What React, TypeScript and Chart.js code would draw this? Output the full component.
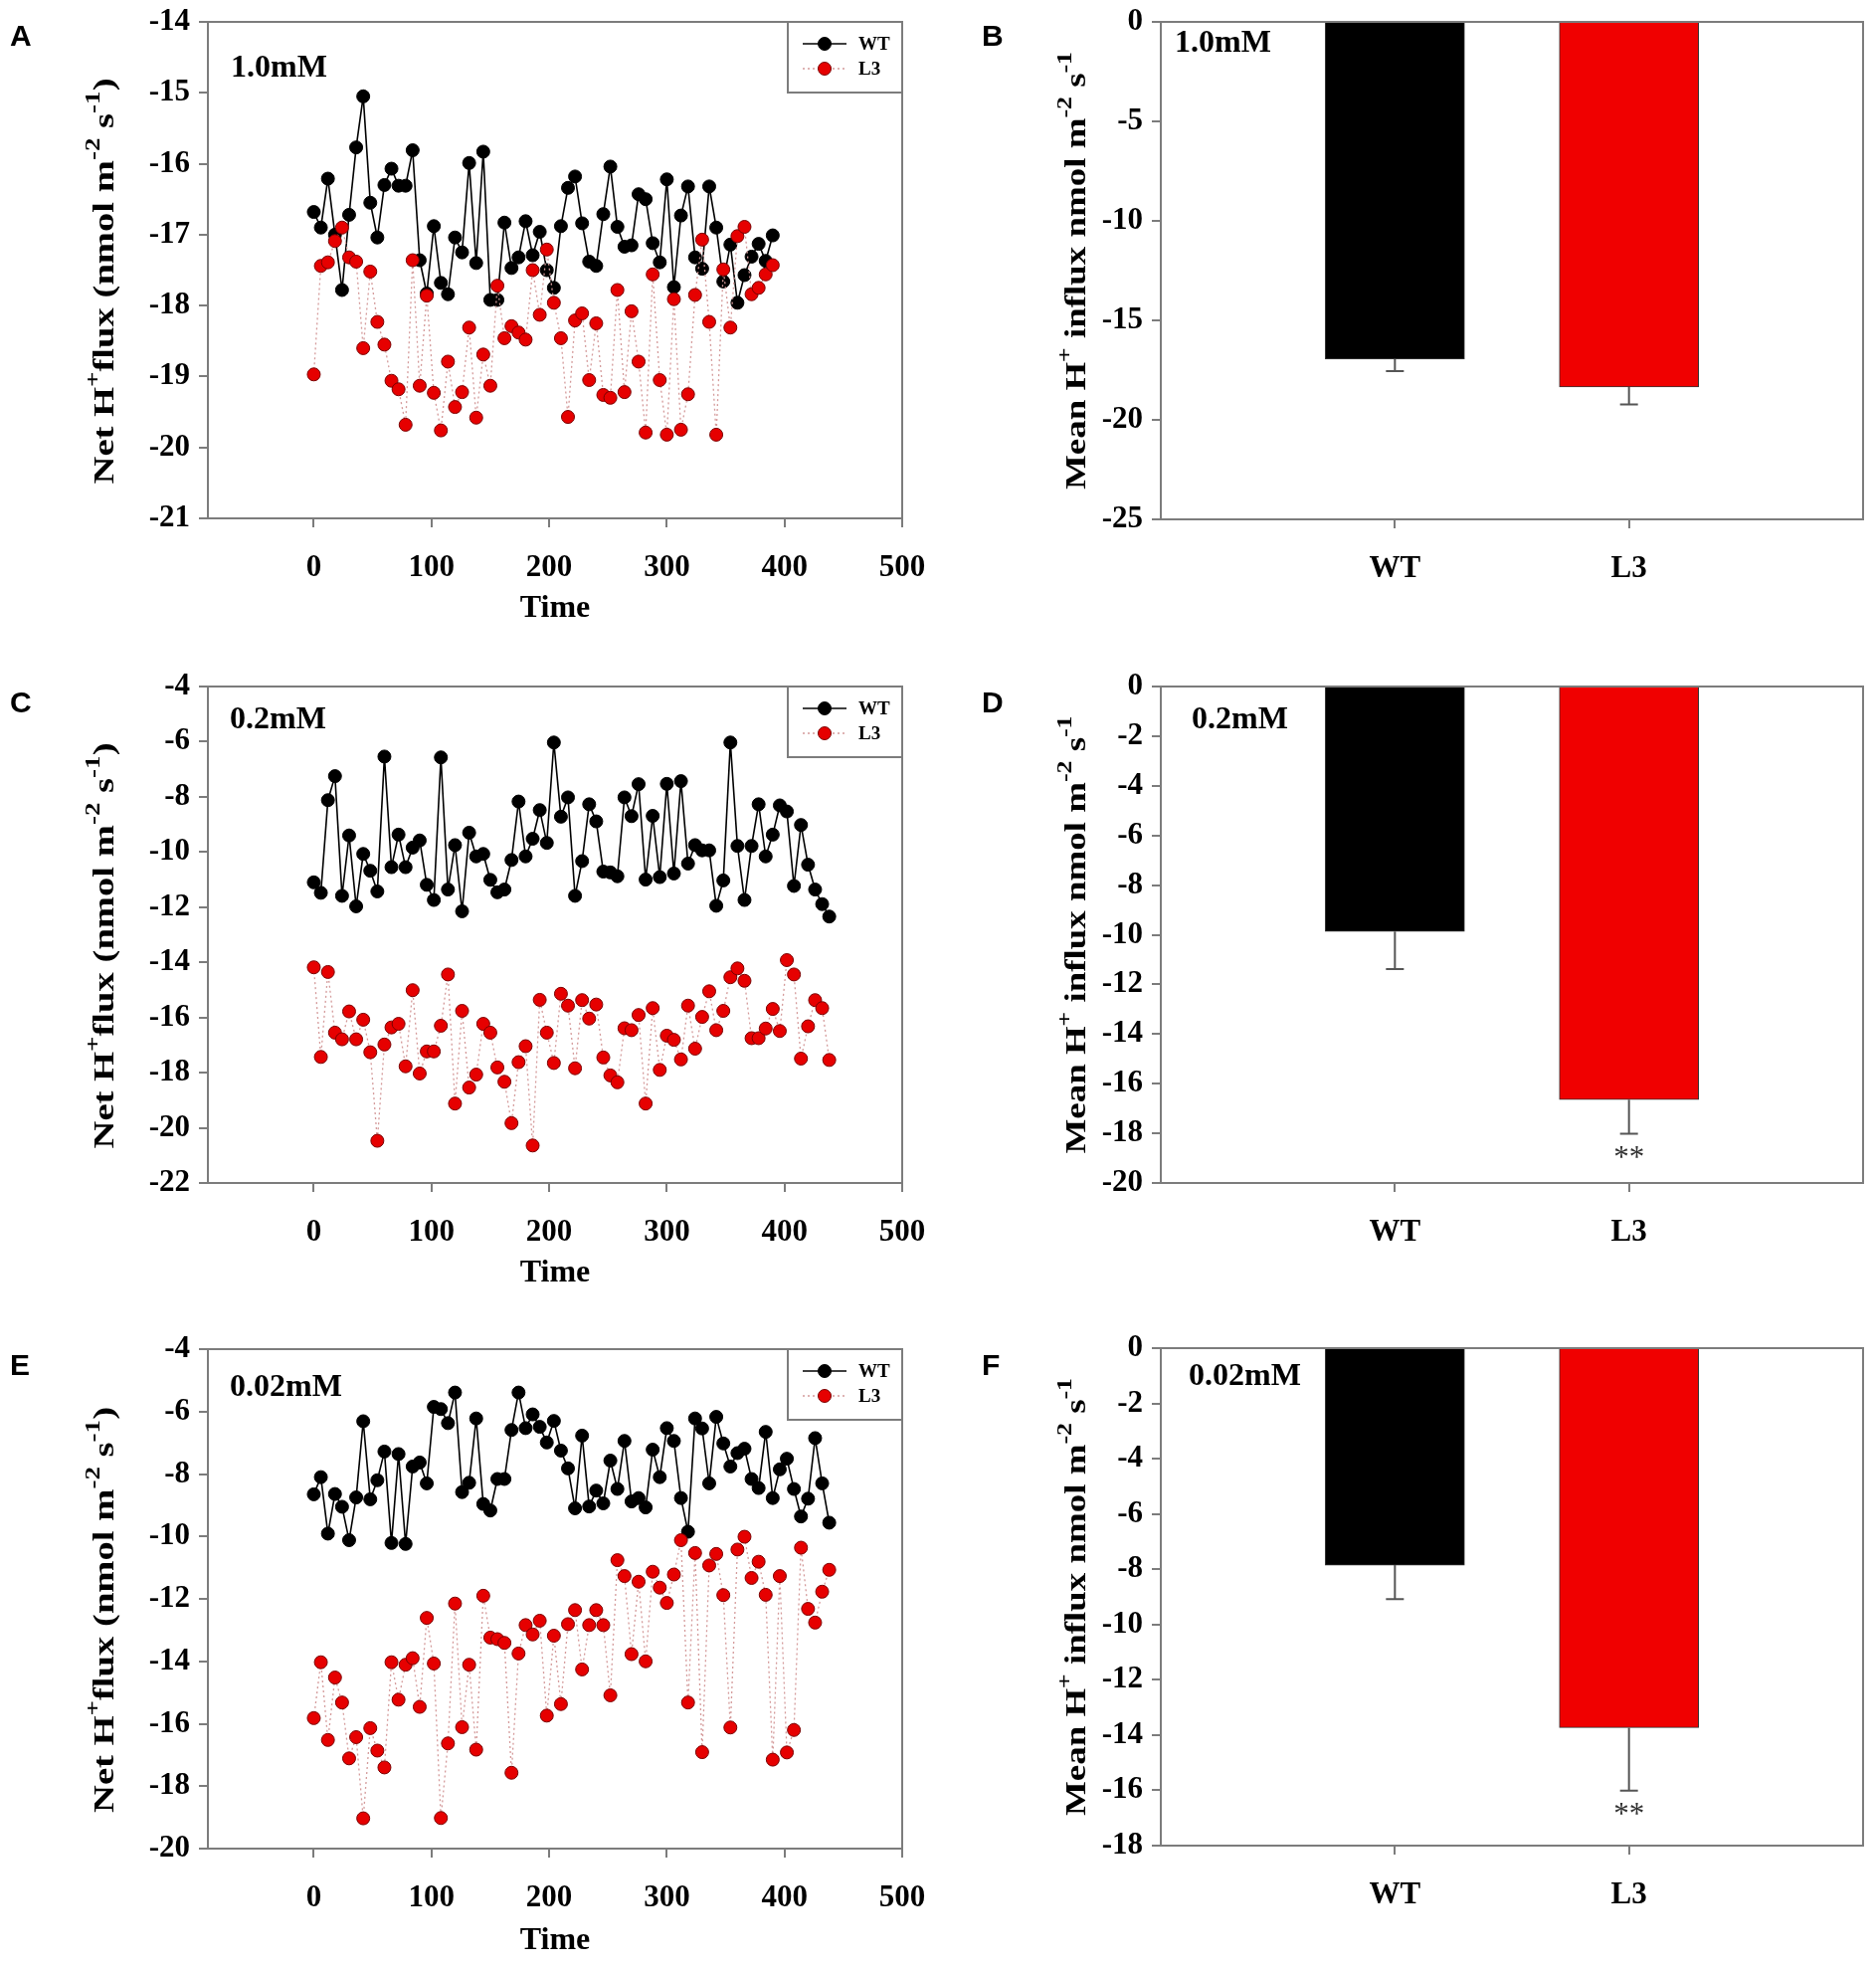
import React, { useEffect, useRef } from 'react';
import { Chart, registerables } from 'chart.js';

Chart.register(...registerables);

// ---- data ----
const timeA = [0, 6, 12, 18, 24, 30, 36, 42, 48, 54, 60, 66, 72, 78, 84, 90, 96, 102, 108, 114, 120, 126, 132, 138, 144, 150, 156, 162, 168, 174, 180, 186, 192, 198, 204, 210, 216, 222, 228, 234, 240, 246, 252, 258, 264, 270, 276, 282, 288, 294, 300, 306, 312, 318, 324, 330, 336, 342, 348, 354, 360, 366, 372, 378, 384, 390];
const wtA = [-16.68, -16.90, -16.21, -17.00, -17.78, -16.72, -15.77, -15.05, -16.55, -17.04, -16.30, -16.07, -16.31, -16.31, -15.81, -17.36, -17.83, -16.88, -17.68, -17.84, -17.04, -17.25, -15.99, -17.40, -15.83, -17.92, -17.92, -16.83, -17.47, -17.32, -16.81, -17.29, -16.96, -17.50, -17.75, -16.88, -16.34, -16.18, -16.84, -17.38, -17.44, -16.71, -16.04, -16.89, -17.17, -17.15, -16.43, -16.50, -17.12, -17.39, -16.22, -17.74, -16.73, -16.32, -17.32, -17.48, -16.32, -16.90, -17.66, -17.14, -17.96, -17.57, -17.31, -17.13, -17.37, -17.01];
const l3A = [-18.97, -17.44, -17.39, -17.09, -16.90, -17.32, -17.38, -18.60, -17.52, -18.23, -18.55, -19.06, -19.18, -19.68, -17.36, -19.13, -17.86, -19.23, -19.76, -18.79, -19.43, -19.22, -18.31, -19.58, -18.69, -19.13, -17.72, -18.46, -18.29, -18.38, -18.48, -17.50, -18.13, -17.21, -17.96, -18.46, -19.57, -18.21, -18.11, -19.05, -18.25, -19.26, -19.30, -17.78, -19.22, -18.08, -18.79, -19.79, -17.56, -19.05, -19.82, -17.91, -19.75, -19.25, -17.85, -17.07, -18.23, -19.82, -17.49, -18.31, -17.02, -16.89, -17.84, -17.75, -17.56, -17.43];

const timeC = [0, 6, 12, 18, 24, 30, 36, 42, 48, 54, 60, 66, 72, 78, 84, 90, 96, 102, 108, 114, 120, 126, 132, 138, 144, 150, 156, 162, 168, 174, 180, 186, 192, 198, 204, 210, 216, 222, 228, 234, 240, 246, 252, 258, 264, 270, 276, 282, 288, 294, 300, 306, 312, 318, 324, 330, 336, 342, 348, 354, 360, 366, 372, 378, 384, 390, 396, 402, 408, 414, 420, 426, 432, 438];
const wtC = [-11.10, -11.48, -8.12, -7.25, -11.59, -9.40, -11.97, -10.07, -10.68, -11.43, -6.54, -10.55, -9.37, -10.55, -9.84, -9.58, -11.19, -11.74, -6.57, -11.36, -9.75, -12.15, -9.30, -10.16, -10.07, -11.01, -11.46, -11.36, -10.29, -8.17, -10.16, -9.52, -8.48, -9.67, -6.03, -8.72, -8.02, -11.59, -10.33, -8.27, -8.89, -10.71, -10.74, -10.88, -8.02, -8.70, -7.54, -11.00, -8.69, -10.91, -7.53, -10.78, -7.43, -10.42, -9.75, -9.94, -9.94, -11.95, -11.03, -6.03, -9.78, -11.74, -9.78, -8.27, -10.16, -9.37, -8.31, -8.53, -11.23, -9.02, -10.46, -11.36, -11.89, -12.34];
const l3C = [-14.18, -17.43, -14.35, -16.55, -16.79, -15.78, -16.79, -16.08, -17.26, -20.47, -16.98, -16.36, -16.23, -17.77, -15.01, -18.03, -17.23, -17.23, -16.30, -14.44, -19.12, -15.76, -18.54, -18.07, -16.23, -16.55, -17.81, -18.33, -19.83, -17.62, -17.04, -20.64, -15.36, -16.55, -17.65, -15.14, -15.57, -17.84, -15.37, -16.04, -15.53, -17.45, -18.10, -18.35, -16.39, -16.46, -15.91, -19.12, -15.66, -17.90, -16.66, -16.81, -17.52, -15.57, -17.13, -15.98, -15.05, -16.46, -15.76, -14.54, -14.22, -14.67, -16.75, -16.75, -16.40, -15.69, -16.49, -13.92, -14.44, -17.49, -16.32, -15.37, -15.66, -17.54];

const timeE = [0, 6, 12, 18, 24, 30, 36, 42, 48, 54, 60, 66, 72, 78, 84, 90, 96, 102, 108, 114, 120, 126, 132, 138, 144, 150, 156, 162, 168, 174, 180, 186, 192, 198, 204, 210, 216, 222, 228, 234, 240, 246, 252, 258, 264, 270, 276, 282, 288, 294, 300, 306, 312, 318, 324, 330, 336, 342, 348, 354, 360, 366, 372, 378, 384, 390, 396, 402, 408, 414, 420, 426, 432, 438];
const wtE = [-8.65, -8.10, -9.91, -8.64, -9.05, -10.12, -8.75, -6.31, -8.81, -8.20, -7.28, -10.21, -7.36, -10.24, -7.76, -7.63, -8.30, -5.85, -5.92, -6.37, -5.39, -8.58, -8.28, -6.22, -8.96, -9.17, -8.16, -8.16, -6.59, -5.39, -6.53, -6.09, -6.49, -6.99, -6.30, -7.25, -7.82, -9.10, -6.77, -9.04, -8.53, -8.94, -7.57, -8.48, -6.94, -8.88, -8.77, -9.07, -7.22, -8.10, -6.53, -6.94, -8.77, -9.85, -6.22, -6.54, -8.30, -6.17, -7.02, -7.76, -7.33, -7.19, -8.16, -8.45, -6.65, -8.77, -7.85, -7.51, -8.48, -9.36, -8.79, -6.85, -8.30, -9.56];
const l3E = [-15.82, -14.03, -16.52, -14.52, -15.32, -17.11, -16.43, -19.03, -16.14, -16.86, -17.40, -14.03, -15.23, -14.11, -13.90, -15.46, -12.61, -14.07, -19.02, -16.63, -12.15, -16.11, -14.11, -16.83, -11.90, -13.24, -13.29, -13.41, -17.57, -13.75, -12.84, -13.14, -12.70, -15.74, -13.18, -15.37, -12.81, -12.36, -14.26, -12.84, -12.36, -12.84, -15.09, -10.76, -11.27, -13.77, -11.45, -14.00, -11.13, -11.64, -12.13, -11.22, -10.12, -15.32, -10.53, -16.91, -10.93, -10.56, -11.88, -16.12, -10.42, -10.01, -11.33, -10.81, -11.87, -17.15, -11.27, -16.92, -16.20, -10.36, -12.32, -12.76, -11.77, -11.07];

const timeTicks = [0, 100, 200, 300, 400, 500];

const lineLabels = ['WT', 'L3'];
const barLabels = ['WT', 'L3'];
const meanB = [-16.94, -18.35];
const errB = [0.61, 0.88];
const sigB = ['', ''];
const meanD = [-9.87, -16.64];
const errD = [1.51, 1.38];
const sigD = ['', '**'];
const meanF = [-7.85, -13.73];
const errF = [1.23, 2.28];
const sigF = ['', '**'];

// axis titles with superscript parts
const fluxTitle = [
  { text: 'Net H', sup: false }, { text: '+', sup: true }, { text: 'flux (nmol m', sup: false },
  { text: '-2', sup: true }, { text: ' s', sup: false }, { text: '-1', sup: true }, { text: ')', sup: false },
];
const meanTitle = [
  { text: 'Mean H', sup: false }, { text: '+', sup: true }, { text: ' influx nmol m', sup: false },
  { text: '-2', sup: true }, { text: ' s', sup: false }, { text: '-1', sup: true },
];

// ---- styling ----
const SERIF = "'Liberation Serif', 'Times New Roman', serif";
const AXIS_GRAY = '#7c7c7c';
const tickFont = { family: SERIF, size: 31, weight: 'bold' };
const titleFont = { family: SERIF, size: 32, weight: 'bold' };

const framePlugin = {
  id: 'frame',
  beforeDatasetsDraw(chart: any) {
    const ctx = chart.ctx;
    const a = chart.chartArea;
    ctx.save();
    ctx.strokeStyle = AXIS_GRAY;
    ctx.lineWidth = 2;
    ctx.strokeRect(a.left, a.top, a.right - a.left, a.bottom - a.top);
    ctx.restore();
  },
};

function makeLabelPlugin(text: string, dx: number, dy: number) {
  return {
    id: 'panelLabel',
    afterDatasetsDraw(chart: any) {
      const ctx = chart.ctx;
      const a = chart.chartArea;
      ctx.save();
      ctx.font = 'bold 32px ' + SERIF;
      ctx.fillStyle = '#000';
      ctx.textAlign = 'left';
      ctx.textBaseline = 'middle';
      ctx.fillText(text, a.left + dx, a.top + dy);
      ctx.restore();
    },
  };
}

// rotated y title drawn with real superscripts, stretched along its length like the source figure
function makeYTitlePlugin(parts: { text: string; sup: boolean }[], cx: number, dy: number, length: number) {
  return {
    id: 'yTitle',
    afterDraw(chart: any) {
      const ctx = chart.ctx;
      const a = chart.chartArea;
      const mainFont = 'bold 30px ' + SERIF;
      const supFont = 'bold 21px ' + SERIF;
      ctx.save();
      let total = 0;
      const widths: number[] = [];
      for (let i = 0; i < parts.length; i++) {
        ctx.font = parts[i].sup ? supFont : mainFont;
        const w = ctx.measureText(parts[i].text).width;
        widths.push(w);
        total += w;
      }
      ctx.translate(cx, (a.top + a.bottom) / 2 + dy);
      ctx.rotate(-Math.PI / 2);
      ctx.scale(length / total, 1);
      ctx.fillStyle = '#000';
      ctx.textAlign = 'left';
      ctx.textBaseline = 'middle';
      let x = -total / 2;
      for (let i = 0; i < parts.length; i++) {
        ctx.font = parts[i].sup ? supFont : mainFont;
        ctx.fillText(parts[i].text, x, parts[i].sup ? -11 : 0);
        x += widths[i];
      }
      ctx.restore();
    },
  };
}

const legendPlugin = {
  id: 'boxLegend',
  afterDatasetsDraw(chart: any) {
    const ctx = chart.ctx;
    const right = chart.chartArea.right;
    const top = chart.chartArea.top;
    ctx.save();
    ctx.fillStyle = '#fff';
    ctx.fillRect(right - 115, top, 115, 71);
    ctx.strokeStyle = AXIS_GRAY;
    ctx.lineWidth = 2;
    ctx.strokeRect(right - 115, top, 115, 71);
    const sets = chart.data.datasets;
    for (let i = 0; i < sets.length; i++) {
      const ds = sets[i];
      const y = top + 22 + i * 25;
      ctx.strokeStyle = ds.borderColor;
      ctx.lineWidth = ds.borderWidth;
      ctx.setLineDash(ds.borderDash || []);
      ctx.beginPath();
      ctx.moveTo(right - 100, y);
      ctx.lineTo(right - 56, y);
      ctx.stroke();
      ctx.setLineDash([]);
      ctx.beginPath();
      ctx.arc(right - 78, y, 6.5, 0, Math.PI * 2);
      ctx.fillStyle = ds.pointBackgroundColor;
      ctx.fill();
      ctx.strokeStyle = ds.pointBorderColor;
      ctx.lineWidth = 1;
      ctx.stroke();
      ctx.fillStyle = '#000';
      ctx.font = 'bold 19px ' + SERIF;
      ctx.textAlign = 'left';
      ctx.textBaseline = 'middle';
      ctx.fillText(ds.label, right - 44, y + 1);
    }
    ctx.restore();
  },
};

function makeErrorPlugin(means: number[], errs: number[], marks: string[]) {
  return {
    id: 'errorBars',
    afterDatasetsDraw(chart: any) {
      const ctx = chart.ctx;
      const yScale = chart.scales.y;
      const meta = chart.getDatasetMeta(0);
      ctx.save();
      for (let i = 0; i < means.length; i++) {
        const bar = meta.data[i];
        if (!bar) continue;
        const x = bar.x;
        const y0 = yScale.getPixelForValue(means[i]);
        const y1 = yScale.getPixelForValue(means[i] - errs[i]);
        ctx.strokeStyle = '#555';
        ctx.lineWidth = 2;
        ctx.beginPath();
        ctx.moveTo(x, y0);
        ctx.lineTo(x, y1);
        ctx.moveTo(x - 9, y1);
        ctx.lineTo(x + 9, y1);
        ctx.stroke();
        if (marks[i]) {
          ctx.fillStyle = '#333';
          ctx.font = '31px ' + SERIF;
          ctx.textAlign = 'center';
          ctx.textBaseline = 'middle';
          ctx.fillText(marks[i], x, y1 + 25);
        }
      }
      ctx.restore();
    },
  };
}

const gridOpts = { drawOnChartArea: false, color: AXIS_GRAY, lineWidth: 2, tickLength: 9 };
const borderOpts = { color: AXIS_GRAY, width: 2 };

// the y tick labels reserve ~27.6px above the plot, so every canvas starts 28px above its plot
const TOP_PAD = 28;

interface Layout {
  padRight: number;
  yWidth: number;
  xHeight: number;
  xTitlePad: number;
}

function lineConfig(
  times: number[], wt: number[], l3: number[],
  yMin: number, yMax: number, yStep: number,
  label: string, ldx: number, ldy: number, lay: Layout
): any {
  const wtPoints = times.map(function (t, i) { return { x: t, y: wt[i] }; });
  const l3Points = times.map(function (t, i) { return { x: t, y: l3[i] }; });
  return {
    type: 'line',
    data: {
      datasets: [
        {
          label: lineLabels[0],
          data: wtPoints,
          borderColor: '#000',
          borderWidth: 1.6,
          pointRadius: 6.5,
          pointBackgroundColor: '#000',
          pointBorderColor: '#000',
          pointBorderWidth: 1,
          tension: 0,
          order: 2,
        },
        {
          label: lineLabels[1],
          data: l3Points,
          borderColor: '#d49a9a',
          borderWidth: 1.3,
          borderDash: [2, 3],
          pointRadius: 6.5,
          pointBackgroundColor: '#e60000',
          pointBorderColor: '#7a0000',
          pointBorderWidth: 1,
          tension: 0,
          order: 1,
        },
      ],
    },
    options: {
      animation: false,
      responsive: true,
      maintainAspectRatio: false,
      devicePixelRatio: 1,
      layout: { padding: { left: 0, right: lay.padRight, top: TOP_PAD, bottom: 0 } },
      plugins: { legend: { display: false }, tooltip: { enabled: false } },
      scales: {
        x: {
          type: 'linear',
          min: -90,
          max: 500,
          afterBuildTicks: function (s: any) { s.ticks = timeTicks.map(function (v) { return { value: v }; }); },
          afterFit: function (s: any) { s.height = lay.xHeight; },
          ticks: { color: '#000', font: tickFont, padding: 22, maxRotation: 0, autoSkip: false },
          grid: gridOpts,
          border: borderOpts,
          title: { display: true, text: 'Time', color: '#000', font: titleFont, padding: { top: 0, bottom: lay.xTitlePad } },
        },
        y: {
          min: yMin,
          max: yMax,
          afterFit: function (s: any) { s.width = lay.yWidth; },
          ticks: { stepSize: yStep, color: '#000', font: tickFont, padding: 9, autoSkip: false },
          grid: gridOpts,
          border: borderOpts,
        },
      },
    },
    plugins: [framePlugin, legendPlugin, makeLabelPlugin(label, ldx, ldy), makeYTitlePlugin(fluxTitle, 106, 11, 408)],
  };
}

function barConfig(
  means: number[], errs: number[], marks: string[],
  yMin: number, yStep: number,
  label: string, ldx: number, ldy: number, lay: Layout
): any {
  const points = means.map(function (m, i) { return { x: i + 1, y: m }; });
  return {
    type: 'bar',
    data: {
      datasets: [
        {
          data: points,
          backgroundColor: ['#000000', '#f00000'],
          borderColor: '#333',
          borderWidth: 1,
          barThickness: 140,
        },
      ],
    },
    options: {
      animation: false,
      responsive: true,
      maintainAspectRatio: false,
      devicePixelRatio: 1,
      layout: { padding: { left: 0, right: lay.padRight, top: TOP_PAD, bottom: 0 } },
      plugins: { legend: { display: false }, tooltip: { enabled: false } },
      scales: {
        x: {
          type: 'linear',
          min: 0,
          max: 3,
          offset: false,
          afterBuildTicks: function (s: any) { s.ticks = barLabels.map(function (_l, i) { return { value: i + 1 }; }); },
          afterFit: function (s: any) { s.height = lay.xHeight; },
          ticks: {
            color: '#000',
            font: tickFont,
            padding: 22,
            maxRotation: 0,
            autoSkip: false,
            callback: function (v: any) { return barLabels[Math.round(Number(v)) - 1] || ''; },
          },
          grid: { drawOnChartArea: false, color: AXIS_GRAY, lineWidth: 2, tickLength: 9, offset: false },
          border: borderOpts,
        },
        y: {
          min: yMin,
          max: 0,
          afterFit: function (s: any) { s.width = lay.yWidth; },
          ticks: { stepSize: yStep, color: '#000', font: tickFont, padding: 9, autoSkip: false },
          grid: gridOpts,
          border: borderOpts,
        },
      },
    },
    plugins: [framePlugin, makeErrorPlugin(means, errs, marks), makeLabelPlugin(label, ldx, ldy), makeYTitlePlugin(meanTitle, 140, 0, 440)],
  };
}

interface PanelProps {
  left: number;
  top: number;
  width: number;
  height: number;
  make: () => any;
}

function ChartPanel(props: PanelProps) {
  const canvasRef = useRef<HTMLCanvasElement>(null);
  useEffect(() => {
    let chart: Chart | undefined;
    if (canvasRef.current) {
      chart = new Chart(canvasRef.current, props.make());
    }
    return () => {
      if (chart) chart.destroy();
    };
  }, []);
  return (
    <div style={{ position: 'absolute', left: props.left, top: props.top, width: props.width, height: props.height }}>
      <canvas ref={canvasRef}></canvas>
    </div>
  );
}

function letterStyle(left: number, top: number): React.CSSProperties {
  return {
    position: 'absolute',
    left: left,
    top: top,
    fontFamily: "'Liberation Sans', Arial, sans-serif",
    fontWeight: 'bold',
    fontSize: 30,
    lineHeight: 1,
    color: '#000',
  };
}

// left column canvases are a bit wider than the column so the "500" label fits without shrinking the plot
const LEFT_W = 965;
const LEFT_PLOT_RIGHT = 907;
function leftLay(plotBottom: number, cellBottom: number, xTitlePad: number): Layout {
  return { padRight: LEFT_W - LEFT_PLOT_RIGHT, yWidth: 209, xHeight: cellBottom - plotBottom, xTitlePad: xTitlePad };
}
function rightLay(plotBottom: number, cellBottom: number): Layout {
  return { padRight: 13, yWidth: 224, xHeight: cellBottom - plotBottom, xTitlePad: 0 };
}

export default function App() {
  return (
    <div style={{ position: 'absolute', left: 0, top: 0, width: 1886, height: 1978, background: '#fff', overflow: 'hidden' }}>
      <ChartPanel left={0} top={22 - TOP_PAD} width={LEFT_W} height={660 - 22 + TOP_PAD}
        make={() => lineConfig(timeA, wtA, l3A, -21, -14, 1, '1.0mM', 23, 47, leftLay(521, 660, 29))} />
      <ChartPanel left={0} top={690 - TOP_PAD} width={LEFT_W} height={1320 - 690 + TOP_PAD}
        make={() => lineConfig(timeC, wtC, l3C, -22, -4, 2, '0.2mM', 22, 34, leftLay(1189, 1320, 21))} />
      <ChartPanel left={0} top={1356 - TOP_PAD} width={LEFT_W} height={1978 - 1356 + TOP_PAD}
        make={() => lineConfig(timeE, wtE, l3E, -20, -4, 2, '0.02mM', 22, 39, leftLay(1858, 1978, 8))} />
      <ChartPanel left={943} top={22 - TOP_PAD} width={943} height={660 - 22 + TOP_PAD}
        make={() => barConfig(meanB, errB, sigB, -25, 5, '1.0mM', 14, 22, rightLay(522, 660))} />
      <ChartPanel left={943} top={690 - TOP_PAD} width={943} height={1320 - 690 + TOP_PAD}
        make={() => barConfig(meanD, errD, sigD, -20, 2, '0.2mM', 31, 34, rightLay(1189, 1320))} />
      <ChartPanel left={943} top={1355 - TOP_PAD} width={943} height={1978 - 1355 + TOP_PAD}
        make={() => barConfig(meanF, errF, sigF, -18, 2, '0.02mM', 28, 29, rightLay(1855, 1978))} />
      <div style={letterStyle(10, 21)}>A</div>
      <div style={letterStyle(987, 21)}>B</div>
      <div style={letterStyle(10, 691)}>C</div>
      <div style={letterStyle(987, 691)}>D</div>
      <div style={letterStyle(10, 1357)}>E</div>
      <div style={letterStyle(987, 1357)}>F</div>
    </div>
  );
}
